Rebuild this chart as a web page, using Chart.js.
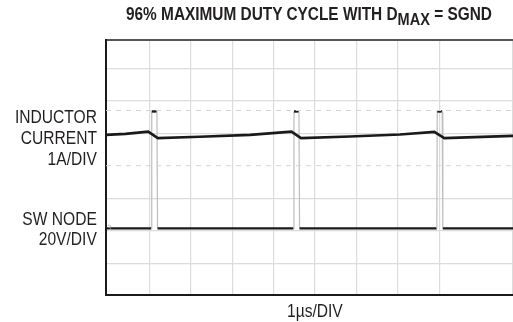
<!DOCTYPE html>
<html>
<head>
<meta charset="utf-8">
<script src="https://cdn.jsdelivr.net/npm/chart.js@4/dist/chart.umd.min.js"></script>
<style>
  html, body { margin: 0; padding: 0; background: #fff; }
  #wrap { position: relative; width: 513px; height: 322px; overflow: hidden; }
  #chart { position: absolute; left: 0; top: 0; }
  .txt { position: absolute; font-family: "Liberation Sans", Arial, sans-serif; color: #231f20; white-space: nowrap; }
  .title { left: 126px; top: 4px; font-size: 18px; line-height: 20px; font-weight: bold; transform: scaleX(0.855); transform-origin: 0 0; }
  .title sub { font-size: 17px; vertical-align: -5px; line-height: 0; }
  .lbl { font-size: 19px; line-height: 21px; text-align: right; right: 416px; transform: scaleX(0.82); transform-origin: 100% 0; }
  .mark { left: 107px; top: 224px; font-size: 7px; color: #aaa; font-family: "DejaVu Sans", sans-serif; }
</style>
</head>
<body>
<div id="wrap">
  <canvas id="chart" width="513" height="322"></canvas>
  <div class="txt title">96% MAXIMUM DUTY CYCLE WITH D<sub>MAX</sub> = SGND</div>
  <div class="txt lbl" style="top:106px">INDUCTOR<br>CURRENT<br>1A/DIV</div>
  <div class="txt lbl" style="top:209px; line-height:20px">SW NODE<br>20V/DIV</div>
  <div class="txt" style="left:287px; top:300px; font-size:19px; line-height:21px; transform:scaleX(0.82); transform-origin:0 0">1µs/DIV</div>
  <div class="txt mark">3</div>
</div>
<script>
  // time in µs (1 div = 1µs), level in divisions from bottom
  const inductorT = [-0.05, 0.42, 0.97, 1.20, 2.22, 3.43, 4.43, 4.66, 5.84, 7.05, 7.88, 8.12, 9.80];
  const inductorY = [4.95, 4.98, 5.05, 4.85, 4.89, 4.95, 5.05, 4.85, 4.90, 4.96, 5.04, 4.85, 4.92];

  const swT = [-0.05, 1.045, 1.055, 1.18, 1.195, 4.48, 4.49, 4.61, 4.625, 7.94, 7.95, 8.07, 8.085, 9.80];
  const swY = [2.07, 2.07, 5.67, 5.67, 2.07, 2.07, 5.67, 5.67, 2.07, 2.07, 5.67, 5.67, 2.07, 2.07];

  const refT = [-0.05, 9.80];
  const peakRefY = [5.70, 5.70];
  const midRefY = [4.0, 4.0];

  const toPts = (xs, ys) => xs.map((x, i) => ({ x: x, y: ys[i] }));

  const edgeColor = ctx => Math.abs(ctx.p0.parsed.y - ctx.p1.parsed.y) > 1 ? '#bdbdbd' : undefined;
  const edgeWidth = ctx => Math.abs(ctx.p0.parsed.y - ctx.p1.parsed.y) > 1 ? 1.2 : undefined;

  new Chart(document.getElementById('chart').getContext('2d'), {
    type: 'line',
    data: {
      datasets: [
        {
          data: toPts(refT, peakRefY),
          borderColor: '#d4d4d4', borderWidth: 1, borderDash: [5, 5],
          pointRadius: 0
        },
        {
          data: toPts(refT, midRefY),
          borderColor: '#d4d4d4', borderWidth: 1, borderDash: [5, 5],
          pointRadius: 0
        },
        {
          label: 'Inductor Current',
          data: toPts(inductorT, inductorY),
          borderColor: '#1a1a1a', borderWidth: 2.6,
          pointRadius: 0, tension: 0
        },
        {
          label: 'SW Node',
          data: toPts(swT, swY),
          borderColor: '#1a1a1a', borderWidth: 2.4,
          pointRadius: 0, tension: 0,
          segment: { borderColor: edgeColor, borderWidth: edgeWidth }
        }
      ]
    },
    options: {
      responsive: false,
      animation: false,
      layout: { padding: { left: 106, right: 0, top: 40, bottom: 27 } },
      plugins: { legend: { display: false }, tooltip: { enabled: false } },
      scales: {
        x: {
          type: 'linear',
          min: -0.05, max: 9.78,
          ticks: { display: false, stepSize: 1 },
          grid: { color: ctx => ctx.tick.value > 0 ? '#dcdcdc' : 'transparent', drawTicks: false, lineWidth: 1.2 },
          border: { display: true, color: '#1a1a1a', width: 2 }
        },
        xTop: {
          type: 'linear', position: 'top',
          min: -0.05, max: 9.78,
          ticks: { display: false },
          grid: { display: false, drawTicks: false },
          border: { display: true, color: '#555', width: 2 }
        },
        y: {
          min: 0.02, max: 7.87,
          ticks: { display: false, stepSize: 1 },
          grid: { color: ctx => (ctx.tick.value > 0 && ctx.tick.value !== 4) ? '#dcdcdc' : 'transparent', drawTicks: false, lineWidth: 1.2 },
          border: { display: true, color: '#1a1a1a', width: 2 }
        }
      }
    }
  });
</script>
</body>
</html>
